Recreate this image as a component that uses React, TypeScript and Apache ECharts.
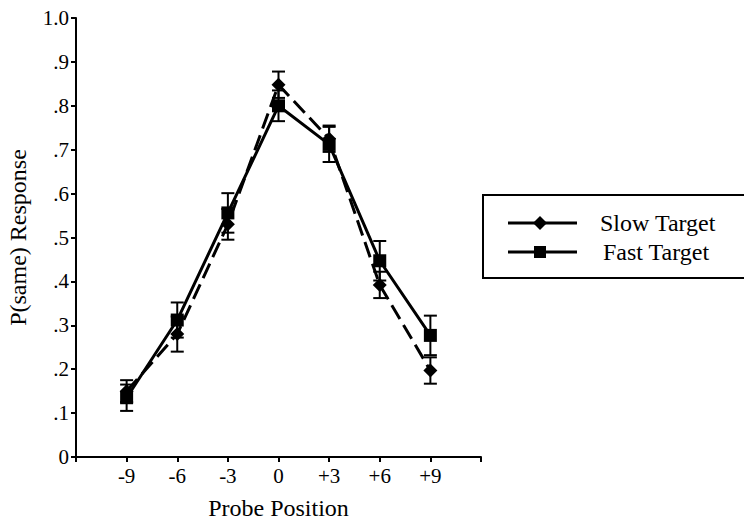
import React, { useEffect, useRef } from "react";
import * as echarts from "echarts";

const positions = [-9, -6, -3, 0, 3, 6, 9];
const slowValues = [0.15, 0.28, 0.53, 0.848, 0.725, 0.392, 0.197];
const slowErrors = [0.025, 0.04, 0.035, 0.03, 0.03, 0.03, 0.03];
const fastValues = [0.135, 0.312, 0.556, 0.8, 0.712, 0.447, 0.277];
const fastErrors = [0.03, 0.04, 0.045, 0.035, 0.04, 0.045, 0.045];
const seriesNames = ["Slow Target", "Fast Target"];

const FONT = "Liberation Serif, DejaVu Serif, serif";

function xLabel(v: number): string {
  if (v <= -12 || v >= 12) return "";
  if (v > 0) return "+" + v;
  return String(v);
}
function yLabel(v: number): string {
  const r = Math.round(v * 10);
  if (r === 10) return "1.0";
  if (r === 0) return "0";
  return "." + r;
}

function errorSeries(values: number[], errors: number[]) {
  return {
    type: "custom",
    silent: true,
    z: 3,
    data: positions.map((p, i) => [p, values[i] - errors[i], values[i] + errors[i]]),
    renderItem: (params: any, api: any) => {
      const lo = api.coord([api.value(0), api.value(1)]);
      const hi = api.coord([api.value(0), api.value(2)]);
      const w = 6.5;
      const style = { stroke: "#000", lineWidth: 2 };
      return {
        type: "group",
        children: [
          { type: "line", shape: { x1: lo[0], y1: lo[1], x2: hi[0], y2: hi[1] }, style },
          { type: "line", shape: { x1: lo[0] - w, y1: lo[1], x2: lo[0] + w, y2: lo[1] }, style },
          { type: "line", shape: { x1: hi[0] - w, y1: hi[1], x2: hi[0] + w, y2: hi[1] }, style },
        ],
      };
    },
  };
}

export default function App() {
  const ref = useRef<HTMLDivElement>(null);
  useEffect(() => {
    document.body.style.margin = "0";
    if (!ref.current) return;
    const chart = echarts.init(ref.current, null, { renderer: "svg" });
    const lx1 = 508, lx2 = 577, lcx = 540, ly1 = 223, ly2 = 252;
    chart.setOption({
      animation: false,
      backgroundColor: "#fff",
      textStyle: { fontFamily: FONT },
      grid: { left: 76, right: 263, top: 18, bottom: 65, containLabel: false, outerBoundsMode: "none" },
      xAxis: {
        type: "value",
        min: -12,
        max: 12,
        interval: 3,
        name: "Probe Position",
        nameLocation: "middle",
        nameGap: 39,
        nameTextStyle: { fontFamily: FONT, fontSize: 24, color: "#000" },
        axisLine: { show: true, onZero: false, lineStyle: { color: "#000", width: 2 } },
        axisTick: { show: true, length: 5, lineStyle: { color: "#000", width: 2 } },
        axisLabel: { formatter: xLabel, fontFamily: FONT, fontSize: 21, color: "#000", margin: 8 },
        splitLine: { show: false },
      },
      yAxis: {
        type: "value",
        min: 0,
        max: 1,
        interval: 0.1,
        name: "P(same) Response",
        nameLocation: "middle",
        nameGap: 46,
        nameTextStyle: { fontFamily: FONT, fontSize: 24, color: "#000" },
        axisLine: { show: true, onZero: false, lineStyle: { color: "#000", width: 2 } },
        axisTick: { show: true, length: 5, lineStyle: { color: "#000", width: 2 } },
        axisLabel: { formatter: yLabel, fontFamily: FONT, fontSize: 21, color: "#000", margin: 7 },
        splitLine: { show: false },
      },
      series: [
        errorSeries(slowValues, slowErrors),
        errorSeries(fastValues, fastErrors),
        {
          name: seriesNames[0],
          type: "line",
          z: 4,
          data: positions.map((p, i) => [p, slowValues[i]]),
          symbol: "diamond",
          symbolSize: 14,
          itemStyle: { color: "#000" },
          lineStyle: { color: "#000", width: 3, type: [16, 7] },
        },
        {
          name: seriesNames[1],
          type: "line",
          z: 4,
          data: positions.map((p, i) => [p, fastValues[i]]),
          symbol: "rect",
          symbolSize: 13,
          itemStyle: { color: "#000" },
          lineStyle: { color: "#000", width: 3, type: "solid" },
        },
      ],
      graphic: [
        { type: "rect", shape: { x: 483, y: 195, width: 275, height: 83 }, style: { fill: "#fff", stroke: "#000", lineWidth: 2 } },
        { type: "line", shape: { x1: lx1, y1: ly1, x2: lx2, y2: ly1 }, style: { stroke: "#000", lineWidth: 3 } },
        { type: "polygon", shape: { points: [[lcx, ly1 - 7], [lcx + 7, ly1], [lcx, ly1 + 7], [lcx - 7, ly1]] }, style: { fill: "#000" } },
        { type: "text", x: 600, y: ly1, style: { text: seriesNames[0], font: `24px ${FONT}`, fill: "#000", verticalAlign: "middle" } },
        { type: "line", shape: { x1: lx1, y1: ly2, x2: lx2, y2: ly2 }, style: { stroke: "#000", lineWidth: 3 } },
        { type: "rect", shape: { x: lcx - 6, y: ly2 - 6, width: 12, height: 12 }, style: { fill: "#000" } },
        { type: "text", x: 603, y: ly2, style: { text: seriesNames[1], font: `24px ${FONT}`, fill: "#000", verticalAlign: "middle" } },
      ],
    });
    return () => chart.dispose();
  }, []);
  return <div ref={ref} style={{ width: 744, height: 522 }} />;
}
